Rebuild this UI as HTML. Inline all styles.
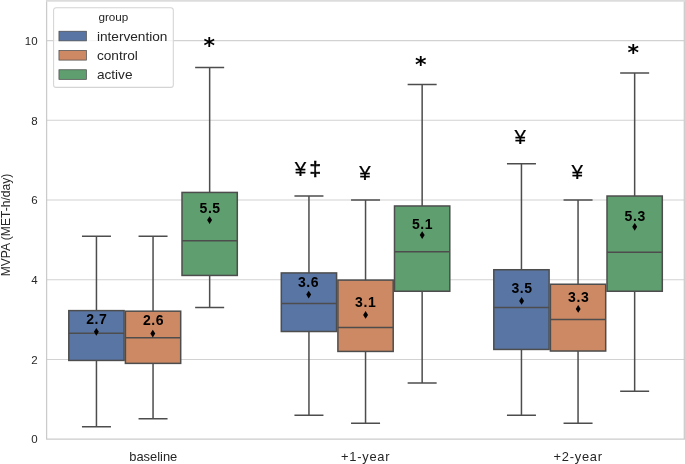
<!DOCTYPE html>
<html><head><meta charset="utf-8"><title>MVPA boxplot</title>
<style>
html,body{margin:0;padding:0;background:#fff}
svg{display:block}
text{font-family:"Liberation Sans",sans-serif;fill:#262626}
.t{font-size:11.5px}
.x{font-size:12.9px}
.xs{letter-spacing:0.75px}
.lg{font-size:13.65px}
.b{font-family:"Liberation Sans",sans-serif;font-weight:bold;font-size:14px;letter-spacing:0.55px;fill:#000}
.s{font-family:"Liberation Sans",sans-serif;font-size:20.6px;fill:#000;stroke:#000;stroke-width:0.22px}
.st{font-family:"DejaVu Sans",sans-serif;font-weight:bold;font-size:22px;fill:#000}
</style></head>
<body>
<svg width="685" height="464" viewBox="0 0 685 464">
<rect width="685" height="464" fill="#fff"/>
<line x1="46.6" x2="684.3" y1="359.40" y2="359.40" stroke="#d2d2d2" stroke-width="1.05"/>
<line x1="46.6" x2="684.3" y1="279.70" y2="279.70" stroke="#d2d2d2" stroke-width="1.05"/>
<line x1="46.6" x2="684.3" y1="200.00" y2="200.00" stroke="#d2d2d2" stroke-width="1.05"/>
<line x1="46.6" x2="684.3" y1="120.30" y2="120.30" stroke="#d2d2d2" stroke-width="1.05"/>
<line x1="46.6" x2="684.3" y1="40.60" y2="40.60" stroke="#d2d2d2" stroke-width="1.05"/>
<g stroke="#4d4d4d" stroke-width="1.5" fill="none"><path d="M96.45 310.62V236.26M96.45 360.44V426.75M82.70 236.26H110.20M82.70 426.75H110.20" stroke-linecap="square"/><rect x="68.80" y="310.62" width="55.3" height="49.81" fill="#5875a4"/><line x1="68.80" x2="124.10" y1="333.22" y2="333.22"/></g>
<polygon points="96.35,327.95 98.80,331.80 96.35,335.65 93.90,331.80" fill="#000"/><text class="b" x="96.73" y="323.70" text-anchor="middle">2.7</text>
<g stroke="#4d4d4d" stroke-width="1.5" fill="none"><path d="M153.05 311.18V236.26M153.05 363.38V418.78M139.30 236.26H166.80M139.30 418.78H166.80" stroke-linecap="square"/><rect x="125.40" y="311.18" width="55.3" height="52.20" fill="#cc8963"/><line x1="125.40" x2="180.70" y1="337.64" y2="337.64"/></g>
<polygon points="152.80,329.75 155.25,333.60 152.80,337.45 150.35,333.60" fill="#000"/><text class="b" x="153.53" y="325.20" text-anchor="middle">2.6</text>
<g stroke="#4d4d4d" stroke-width="1.5" fill="none"><path d="M209.65 192.43V67.50M209.65 275.44V307.60M195.90 67.50H223.40M195.90 307.60H223.40" stroke-linecap="square"/><rect x="182.00" y="192.43" width="55.3" height="83.01" fill="#5f9e6e"/><line x1="182.00" x2="237.30" y1="240.65" y2="240.65"/></g>
<polygon points="209.60,216.25 212.05,220.10 209.60,223.95 207.15,220.10" fill="#000"/><text class="b" x="210.13" y="213.40" text-anchor="middle">5.5</text>
<g stroke="#4d4d4d" stroke-width="1.5" fill="none"><path d="M308.95 272.93V196.02M308.95 331.50V415.19M295.20 196.02H322.70M295.20 415.19H322.70" stroke-linecap="square"/><rect x="281.30" y="272.93" width="55.3" height="58.58" fill="#5875a4"/><line x1="281.30" x2="336.60" y1="303.61" y2="303.61"/></g>
<polygon points="308.70,290.75 311.15,294.60 308.70,298.45 306.25,294.60" fill="#000"/><text class="b" x="308.53" y="287.00" text-anchor="middle">3.6</text>
<g stroke="#4d4d4d" stroke-width="1.5" fill="none"><path d="M365.55 280.10V200.00M365.55 351.43V423.16M351.80 200.00H379.30M351.80 423.16H379.30" stroke-linecap="square"/><rect x="337.90" y="280.10" width="55.3" height="71.33" fill="#cc8963"/><line x1="337.90" x2="393.20" y1="327.52" y2="327.52"/></g>
<polygon points="365.60,311.05 368.05,314.90 365.60,318.75 363.15,314.90" fill="#000"/><text class="b" x="365.68" y="307.00" text-anchor="middle">3.1</text>
<g stroke="#4d4d4d" stroke-width="1.5" fill="none"><path d="M422.15 205.98V84.44M422.15 291.26V382.91M408.40 84.44H435.90M408.40 382.91H435.90" stroke-linecap="square"/><rect x="394.50" y="205.98" width="55.3" height="85.28" fill="#5f9e6e"/><line x1="394.50" x2="449.80" y1="251.81" y2="251.81"/></g>
<polygon points="422.20,231.25 424.65,235.10 422.20,238.95 419.75,235.10" fill="#000"/><text class="b" x="422.48" y="228.60" text-anchor="middle">5.1</text>
<g stroke="#4d4d4d" stroke-width="1.5" fill="none"><path d="M521.45 269.74V163.74M521.45 349.44V415.19M507.70 163.74H535.20M507.70 415.19H535.20" stroke-linecap="square"/><rect x="493.80" y="269.74" width="55.3" height="79.70" fill="#5875a4"/><line x1="493.80" x2="549.10" y1="307.60" y2="307.60"/></g>
<polygon points="521.60,297.10 524.05,300.95 521.60,304.80 519.15,300.95" fill="#000"/><text class="b" x="521.98" y="292.90" text-anchor="middle">3.5</text>
<g stroke="#4d4d4d" stroke-width="1.5" fill="none"><path d="M578.05 284.24V200.00M578.05 351.03V423.16M564.30 200.00H591.80M564.30 423.16H591.80" stroke-linecap="square"/><rect x="550.40" y="284.24" width="55.3" height="66.79" fill="#cc8963"/><line x1="550.40" x2="605.70" y1="319.55" y2="319.55"/></g>
<polygon points="578.20,305.10 580.65,308.95 578.20,312.80 575.75,308.95" fill="#000"/><text class="b" x="578.68" y="301.70" text-anchor="middle">3.3</text>
<g stroke="#4d4d4d" stroke-width="1.5" fill="none"><path d="M634.65 196.02V72.88M634.65 291.26V391.28M620.90 72.88H648.40M620.90 391.28H648.40" stroke-linecap="square"/><rect x="607.00" y="196.02" width="55.3" height="95.24" fill="#5f9e6e"/><line x1="607.00" x2="662.30" y1="252.20" y2="252.20"/></g>
<polygon points="634.70,222.95 637.15,226.80 634.70,230.65 632.25,226.80" fill="#000"/><text class="b" x="635.18" y="220.70" text-anchor="middle">5.3</text>
<path d="M46.6 0V439.0H684.3V0" fill="none" stroke="#cbcbcb" stroke-width="1.25" stroke-linejoin="miter"/><line x1="46.0" x2="685" y1="0.9" y2="0.9" stroke="#dcdcdc" stroke-width="1.75"/>
<text class="t" x="37.6" y="443.45" text-anchor="end">0</text>
<text class="t" x="37.6" y="363.75" text-anchor="end">2</text>
<text class="t" x="37.6" y="284.05" text-anchor="end">4</text>
<text class="t" x="37.6" y="204.35" text-anchor="end">6</text>
<text class="t" x="37.6" y="124.65" text-anchor="end">8</text>
<text class="t" x="37.6" y="44.95" text-anchor="end">10</text>
<text class="x" x="153.25" y="460.5" text-anchor="middle">baseline</text>
<text class="x xs" x="365.65" y="460.5" text-anchor="middle">+1-year</text>
<text class="x xs" x="578.15" y="460.5" text-anchor="middle">+2-year</text>
<text x="10.4" y="225" font-size="12.1" text-anchor="middle" transform="rotate(-90 10.4 225)">MVPA (MET-h/day)</text>
<rect x="53.6" y="7.7" width="119.7" height="79.7" rx="2.5" fill="#fff" fill-opacity="0.8" stroke="#d4d4d4" stroke-width="1.05"/>
<text x="113.4" y="21.4" font-size="11.7" text-anchor="middle">group</text>
<rect x="58.95" y="31.25" width="27.4" height="9.6" fill="#5875a4" stroke="#4d4d4d" stroke-width="0.75"/><text class="lg" x="96.9" y="41.05">intervention</text>
<rect x="58.95" y="50.50" width="27.4" height="9.6" fill="#cc8963" stroke="#4d4d4d" stroke-width="0.75"/><text class="lg" x="96.9" y="60.15">control</text>
<rect x="58.95" y="69.75" width="27.4" height="9.6" fill="#5f9e6e" stroke="#4d4d4d" stroke-width="0.75"/><text class="lg" x="96.9" y="79.25">active</text>
<text class="s" x="300.4" y="175.8" text-anchor="middle">¥</text><text class="s" x="315.15" y="176.2" text-anchor="middle" style="stroke-width:0.6px">‡</text>
<text class="s" x="365.0" y="179.7" text-anchor="middle">¥</text>
<text class="s" x="520.35" y="143.8" text-anchor="middle">¥</text>
<text class="s" x="577.35" y="179.2" text-anchor="middle">¥</text>
<text class="st" x="209.2" y="53.2" text-anchor="middle">*</text>
<text class="st" x="420.7" y="71.6" text-anchor="middle">*</text>
<text class="st" x="633.2" y="59.6" text-anchor="middle">*</text>
</svg>
</body></html>
